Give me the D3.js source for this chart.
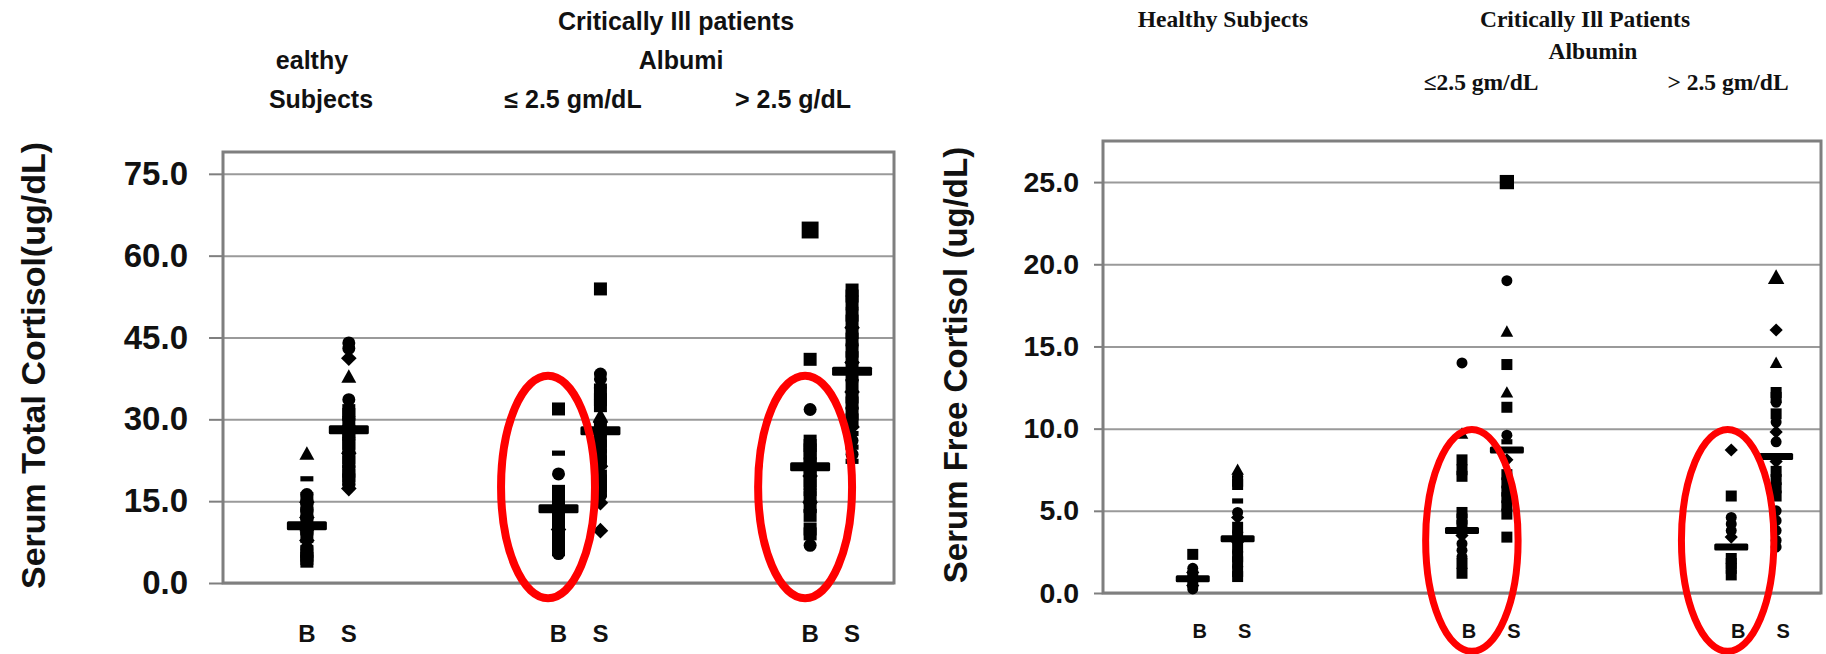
<!DOCTYPE html>
<html><head><meta charset="utf-8">
<script src="https://cdn.jsdelivr.net/npm/d3@7"></script>
<style>body{margin:0;background:#fff}svg{display:block}</style>
</head><body><svg id="c" width="1826" height="654"></svg>
<script>
// ---------------- DATA ----------------
const columnX = [1, 2, 7, 8, 13, 14];          // B, S per group (healthy, alb<=2.5, alb>2.5)
const columnLabels = ["B", "S", "B", "S", "B", "S"];
const totalTicks = [0, 15, 30, 45, 60, 75];
const freeTicks = [0, 5, 10, 15, 20, 25];

// Serum total cortisol (ug/dL)
const totalHealthyB = [23.7, 19.1, 16.2, 15.5, 14.8, 14.1, 13.4, 12.7, 12.0, 11.3, 10.6, 9.9, 9.2, 8.5, 7.8, 6.4, 5.8, 5.1, 4.5, 4.0];
const totalHealthyS = [44.0, 43.0, 41.2, 37.8, 33.6, 31.6, 30.9, 30.1, 29.4, 28.6, 27.8, 27.1, 26.3, 25.6, 24.7, 23.8, 23.0, 22.2, 21.3, 20.5, 19.7, 18.9, 18.1, 17.3];
const totalLowB = [31.9, 23.8, 20.0, 16.8, 16.1, 15.4, 14.7, 14.0, 13.3, 12.6, 11.9, 11.2, 10.5, 9.8, 9.0, 8.3, 7.5, 6.8, 6.1, 5.4];
const totalLowS = [53.9, 38.3, 37.4, 36.1, 34.8, 33.6, 32.5, 30.7, 29.5, 28.5, 27.2, 26.0, 25.1, 24.2, 23.2, 22.2, 21.4, 19.6, 18.7, 17.8, 16.9, 16.0, 14.7, 9.6];
const totalHighB = [64.7, 41.0, 31.8, 26.0, 25.2, 24.4, 23.6, 22.8, 22.0, 21.2, 20.4, 19.6, 18.8, 18.0, 17.2, 16.4, 15.6, 14.8, 14.0, 13.2, 12.4, 9.9, 9.0, 6.9];
const totalHighS = [53.7, 52.6, 51.5, 50.2, 49.1, 48.0, 46.8, 45.9, 44.7, 43.6, 42.5, 41.3, 40.4, 39.5, 38.2, 37.1, 36.2, 35.0, 34.1, 33.0, 32.1, 31.0, 29.9, 28.6, 27.4, 26.1, 24.9, 23.6, 22.3];
const totalMeans = [10.5, 28.1, 13.6, 27.9, 21.3, 38.8];

// Serum free cortisol (ug/dL)
const freeHealthyB = [2.35, 1.5, 1.25, 1.05, 0.85, 0.65, 0.45, 0.25];
const freeHealthyS = [7.5, 7.1, 6.8, 6.6, 5.6, 4.9, 4.6, 4.0, 3.7, 3.4, 3.1, 2.8, 2.5, 2.2, 1.9, 1.6, 1.3, 1.0];
const freeLowB = [14.0, 9.7, 8.1, 7.5, 7.1, 4.9, 4.5, 4.1, 3.5, 3.0, 2.6, 2.2, 1.8, 1.2];
const freeLowS = [25.0, 19.0, 15.9, 13.9, 12.2, 11.3, 9.6, 9.2, 8.1, 7.2, 6.7, 6.2, 5.8, 5.3, 4.8, 3.4];
const freeHighB = [8.7, 5.9, 4.6, 4.2, 3.8, 3.4, 2.1, 1.8, 1.5, 1.1];
const freeHighS = [19.2, 16.0, 14.0, 12.2, 11.9, 11.6, 10.9, 10.4, 9.8, 9.2, 8.0, 7.4, 6.9, 6.4, 5.9, 5.0, 4.4, 3.8, 3.2, 2.8];
const freeMeans = [0.87, 3.3, 3.8, 8.7, 2.8, 8.3];

// highlighted (circled) groups: centre in data units, radii in data units
const totalHighlights = [{x: 6.75, v: 17.6, rx: 1.12, rv: 20.4}, {x: 12.88, v: 17.6, rx: 1.12, rv: 20.4}];
const freeHighlights = [{x: 7.22, v: 3.2, rx: 1.03, rv: 6.75}, {x: 12.92, v: 3.2, rx: 1.03, rv: 6.75}];

// ---------------- STYLE (marker shapes per point) ----------------
const totalShapes = [
  "tr da ci sq di sq ci sq di sq tr sq ci sq di ci sq sq sq sq",
  "ci ci di tr ci sq sq ci sq di sq sq ci sq sq di sq sq ci sq sq sq ci di",
  "sq da ci sq sq ci sq di sq sq ci sq sq di sq sq ci sq sq ci",
  "sq ci ci da sq sq sq tr di sq ci sq sq ci sq sq di sq sq sq sq ci di di",
  "SQ sq ci sq sq sq sq ci sq sq sq di sq sq ci da sq di sq ci sq sq sq ci",
  "sq sq sq ci sq sq di sq sq ci sq sq di sq sq ci sq di sq sq ci sq sq di da ci da ci da"
];
const freeShapes = [
  "sq ci di sq ci sq di ci",
  "tr ci sq sq da ci di sq ci sq di sq ci sq sq ci sq sq",
  "ci tr sq sq sq sq sq sq di ci ci ci sq sq",
  "SQ ci tr sq tr sq ci da di sq sq sq sq sq sq sq",
  "di sq ci ci ci di sq sq sq sq",
  "TR di tr sq sq ci sq ci di ci di sq sq sq sq ci ci ci ci ci"
];

// ---------------- DRAW ----------------
const svg = d3.select("#c");
svg.append("rect").attr("width", 1826).attr("height", 654).attr("fill", "#fff");

function markerPath(shape, s) {
  const big = shape === shape.toUpperCase();
  const t = shape.toLowerCase();
  if (big) s = s * 1.3;
  const h = s / 2;
  switch (t) {
    case "sq": return `M${-h},${-h}h${s}v${s}h${-s}Z`;
    case "di": { const d = h * 1.2; return `M0,${-d}L${d},0L0,${d}L${-d},0Z`; }
    case "tr": { const d = h * 1.15; return `M0,${-d}L${d},${d * 0.8}L${-d},${d * 0.8}Z`; }
    case "ci": return `M${-h},0a${h},${h} 0 1,0 ${s},0a${h},${h} 0 1,0 ${-s},0Z`;
    case "da": return `M${-h},-2.6h${s}v5.2h${-s}Z`;
  }
}

function drawChart(cfg) {
  const g = svg.append("g");
  const x = d3.scaleLinear().domain([-1, 15]).range([cfg.x0, cfg.x1]);
  const y = d3.scaleLinear().domain([0, cfg.ymax]).range([cfg.yBottom, cfg.yTop]);

  // gridlines
  g.append("g").attr("transform", `translate(${cfg.x0},0)`)
    .call(d3.axisLeft(y).tickValues(cfg.ticks).tickSize(-(cfg.x1 - cfg.x0)).tickFormat(""))
    .call(a => a.select(".domain").remove())
    .call(a => a.selectAll("line").attr("stroke", "#9a9a9a").attr("stroke-width", 2));

  // frame
  g.append("rect").attr("x", cfg.x0).attr("y", cfg.yTop)
    .attr("width", cfg.x1 - cfg.x0).attr("height", cfg.yBottom - cfg.yTop)
    .attr("fill", "none").attr("stroke", "#7f7f7f").attr("stroke-width", 3);

  // y axis ticks + labels
  g.append("g").attr("transform", `translate(${cfg.x0},0)`)
    .call(d3.axisLeft(y).tickValues(cfg.ticks).tickSize(cfg.tickLen).tickPadding(cfg.tickPad).tickFormat(d3.format(".1f")))
    .call(a => a.select(".domain").remove())
    .call(a => a.selectAll("line").attr("stroke", "#7f7f7f").attr("stroke-width", 2))
    .call(a => a.selectAll("text").attr("fill", "#111")
      .style("font-family", "'Liberation Sans', Arial, sans-serif")
      .style("font-weight", "bold").style("font-size", cfg.tickFont + "px"));

  // y title
  g.append("text")
    .attr("transform", `translate(${cfg.titleX},${(cfg.yTop + cfg.yBottom) / 2 - 2}) rotate(-90)`)
    .attr("text-anchor", "middle").attr("fill", "#111")
    .style("font-family", "'Liberation Sans', Arial, sans-serif")
    .style("font-weight", "bold").style("font-size", cfg.titleFont + "px")
    .text(cfg.title);

  // x labels
  g.selectAll("text.xl").data(columnX).join("text").attr("class", "xl")
    .attr("x", (d) => x(d) + cfg.labelShift).attr("y", cfg.labelY)
    .attr("text-anchor", "middle").attr("fill", "#111")
    .style("font-family", "'Liberation Sans', Arial, sans-serif")
    .style("font-weight", "bold").style("font-size", cfg.labelFont + "px")
    .text((d, i) => columnLabels[i]);

  // points
  cfg.columns.forEach((vals, ci) => {
    const shapes = cfg.shapes[ci].split(" ");
    g.append("g").selectAll("path").data(vals).join("path")
      .attr("transform", (v) => `translate(${x(columnX[ci])},${y(v)})`)
      .attr("d", (v, i) => markerPath(shapes[i] || "sq", cfg.marker))
      .attr("fill", "#000");
  });

  // mean bars
  g.append("g").selectAll("rect").data(cfg.means).join("rect")
    .attr("x", (m, i) => x(columnX[i]) - cfg.barW / 2)
    .attr("y", (m) => y(m) - cfg.barH / 2)
    .attr("width", cfg.barW).attr("height", cfg.barH)
    .attr("rx", 1.5).attr("fill", "#000");

  // highlight ellipses
  g.append("g").selectAll("ellipse").data(cfg.highlights).join("ellipse")
    .attr("cx", (d) => x(d.x)).attr("cy", (d) => y(d.v))
    .attr("rx", (d) => x(d.x + d.rx) - x(d.x))
    .attr("ry", (d) => y(0) - y(d.rv))
    .attr("fill", "none").attr("stroke", "#ff0000").attr("stroke-width", cfg.ellW);

  // headers
  g.selectAll("text.hd").data(cfg.headers).join("text").attr("class", "hd")
    .attr("x", (d) => d[1]).attr("y", (d) => d[2])
    .attr("text-anchor", "middle").attr("fill", "#111")
    .style("font-family", cfg.headerFamily)
    .style("font-weight", "bold").style("font-size", cfg.headerFont + "px")
    .text((d) => d[0]);
}

drawChart({
  x0: 223, x1: 894, yTop: 152, yBottom: 583, ymax: 79,
  ticks: totalTicks, tickLen: 14, tickPad: 21, tickFont: 33,
  title: "Serum Total Cortisol(ug/dL)", titleX: 45, titleFont: 34,
  labelY: 642, labelShift: 0, labelFont: 24,
  columns: [totalHealthyB, totalHealthyS, totalLowB, totalLowS, totalHighB, totalHighS],
  shapes: totalShapes, marker: 13, means: totalMeans, barW: 40, barH: 9,
  highlights: totalHighlights, ellW: 8,
  headerFamily: "'Liberation Sans', Arial, sans-serif", headerFont: 25,
  headers: [["Critically Ill patients", 676, 30], ["ealthy", 312, 69], ["Albumi", 681, 69],
            ["Subjects", 321, 108], ["\u2264 2.5 gm/dL", 573, 108], ["> 2.5 g/dL", 793, 108]]
});

drawChart({
  x0: 1103, x1: 1821, yTop: 141, yBottom: 593, ymax: 27.5,
  ticks: freeTicks, tickLen: 9, tickPad: 15, tickFont: 28.5,
  title: "Serum Free Cortisol (ug/dL)", titleX: 967, titleFont: 33,
  labelY: 638, labelShift: 7, labelFont: 20,
  columns: [freeHealthyB, freeHealthyS, freeLowB, freeLowS, freeHighB, freeHighS],
  shapes: freeShapes, marker: 11, means: freeMeans, barW: 34, barH: 7,
  highlights: freeHighlights, ellW: 7,
  headerFamily: "'Liberation Serif', 'Times New Roman', serif", headerFont: 23.5,
  headers: [["Healthy Subjects", 1223, 27], ["Critically Ill Patients", 1585, 27], ["Albumin", 1593, 59],
            ["\u22642.5 gm/dL", 1481, 90], ["> 2.5 gm/dL", 1728, 90]]
});
</script>
</body></html>
